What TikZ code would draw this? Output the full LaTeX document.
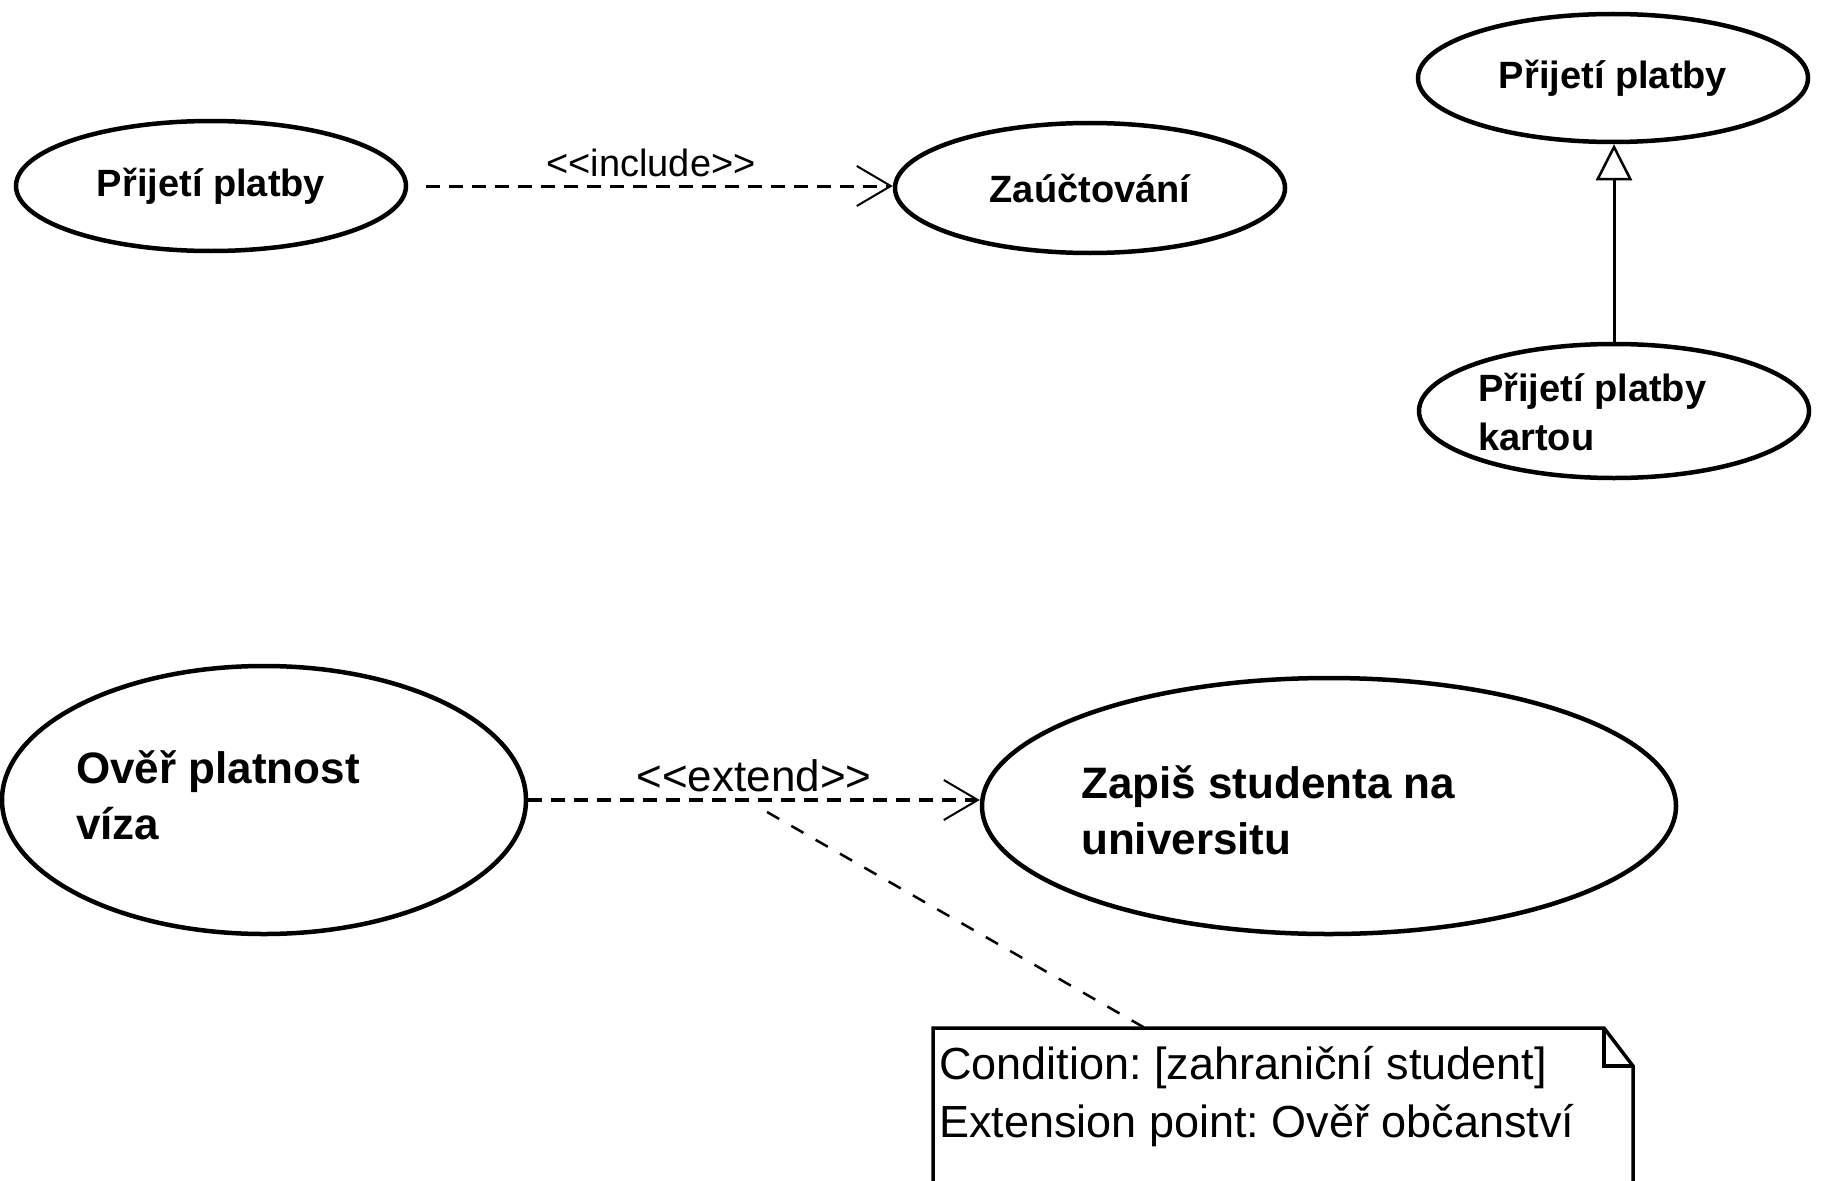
\documentclass[tikz,border=0pt]{standalone}
\usepackage{fontspec}
\setmainfont{Liberation Sans}
\usetikzlibrary{shapes.geometric,arrows.meta}

% stereotype brackets written so that the font mapping keeps them as << and >>
\newcommand{\stL}{<\kern0pt<}
\newcommand{\stR}{>\kern0pt>}

\begin{document}
\frenchspacing
\begin{tikzpicture}[x=1pt,y=-1pt,
  usecase/.style={ellipse, draw, line width=4.5pt, inner sep=0pt},
  ucsmall/.style={font=\bfseries\fontsize{38}{49}\selectfont},
  uctext/.style={anchor=west, align=left, inner sep=0pt},
  ucbig/.style={font=\bfseries\fontsize{44}{56}\selectfont},
  barb/.style={-{Straight Barb[length=34pt,width=40pt,line width=2pt]}},
  depline/.style={dash pattern=on 14pt off 9pt, line width=3pt, barb},
  extline/.style={dash pattern=on 14pt off 9pt, line width=4pt, barb},
  genline/.style={line width=3pt, -{Triangle[open, fill=white, length=36pt, width=36pt, line width=2.5pt]}},
  notelink/.style={dash pattern=on 14pt off 14pt, line width=2.5pt},
  notebox/.style={line width=3.5pt},
  stereo/.style={inner sep=0pt, font=\fontsize{38}{44}\selectfont},
  notetext/.style={anchor=west, align=left, inner sep=0pt, font=\fontsize{45}{58}\selectfont}
]
\useasboundingbox (0,0) rectangle (1822,1180);
\clip (0,0) rectangle (1822,1180);

% include relationship
\node[usecase, ucsmall, minimum width=390pt, minimum height=130pt] (pay) at (211,186) {Přijetí platby};
\node[usecase, ucsmall, minimum width=390pt, minimum height=130pt] (post) at (1090,188) {Zaúčtování};
\draw[depline, shorten <=18pt] (pay.east) -- (pay.east -| post.west);
\node[stereo] (inclbl) at (651,163) {\stL include\stR};

% generalization
\node[usecase, ucsmall, minimum width=390pt, minimum height=128pt] (paygen) at (1613,78) {Přijetí platby};
\node[usecase, minimum width=390pt, minimum height=134pt] (paycard) at (1614,411) {};
\node[uctext, ucsmall] (paycardtxt) at (1478,412) {Přijetí platby\\kartou};
\draw[genline] (paycard.north) -- (paycard.north |- paygen.south);

% extend relationship
\node[usecase, minimum width=524pt, minimum height=268pt] (visa) at (264,800) {};
\node[uctext, ucbig] (visatxt) at (76,795) {Ověř platnost\\víza};
\node[usecase, minimum width=694pt, minimum height=256pt] (enrol) at (1329,806) {};
\node[uctext, ucbig] (enroltxt) at (1081,810) {Zapiš studenta na\\universitu};
\draw[extline] (visa.east) -- (visa.east -| enrol.west);
\node[stereo, font=\fontsize{44}{50}\selectfont] (extlbl) at (754,776) {\stL extend\stR};

% condition note with folded corner
\coordinate (ntl) at (933,1028);
\coordinate (nfold) at (1604,1028);
\coordinate (nfoldin) at (1604,1066);
\coordinate (nfoldout) at (1633,1066);
\coordinate (nbl) at (933,1200);
\coordinate (nbr) at (1633,1200);
\draw[notebox] (nbl) -- (ntl) -- (nfold) -- (nfoldout) -- (nbr);
\draw[notebox] (nfold) -- (nfoldin) -- (nfoldout);
\node[notetext] (notetxt) at (939,1097) {Condition: [zahraniční student]\\Extension point: Ověř občanství};

\coordinate (extmid) at (767,812);
\coordinate (noteattach) at (1145,1028);
\draw[notelink] (extmid) -- (noteattach);
\end{tikzpicture}
\end{document}
